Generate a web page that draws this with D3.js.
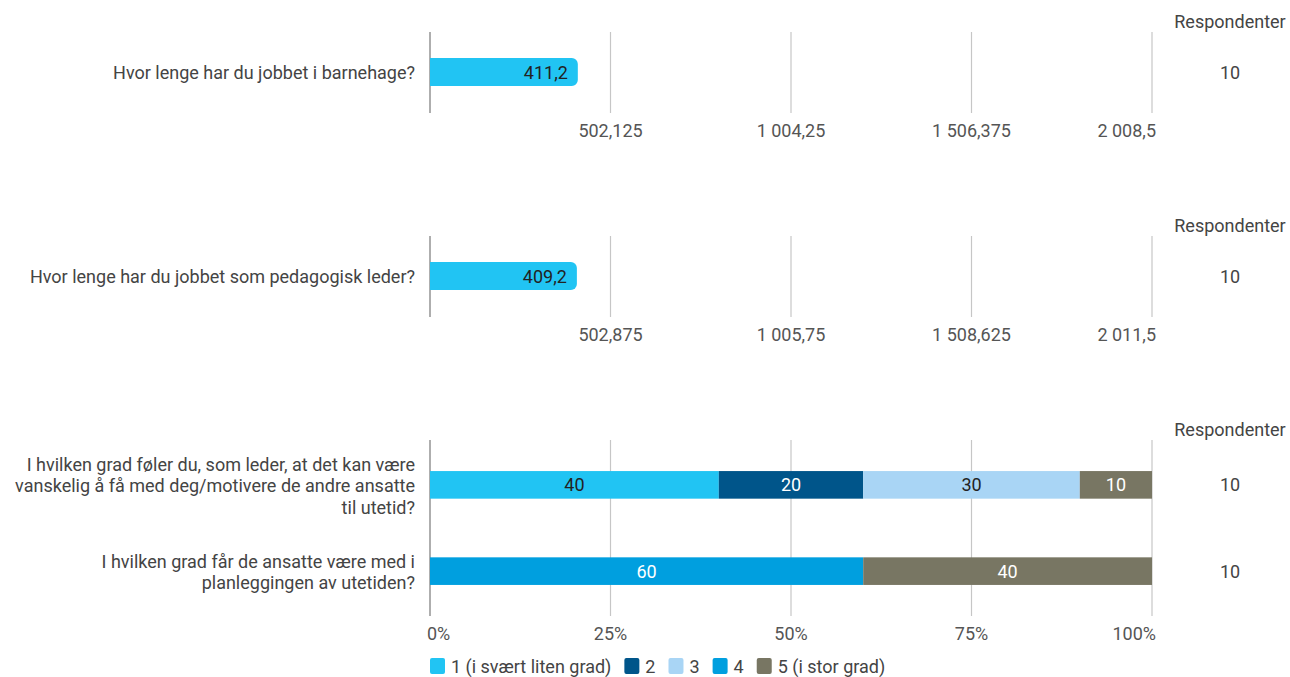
<!DOCTYPE html>
<html>
<head>
<meta charset="utf-8">
<script src="https://cdn.jsdelivr.net/npm/d3@7"></script>
<style>
  html, body { margin: 0; padding: 0; background: #fff; }
  svg { display: block; font-family: Roboto, "Noto Sans", sans-serif; }
</style>
</head>
<body>
<svg id="chart" width="1290" height="677"></svg>
<script>
// Average-value questions (single bar each)
const avgQuestions = ["Hvor lenge har du jobbet i barnehage?", "Hvor lenge har du jobbet som pedagogisk leder?"];
const avgValues = [411.2, 409.2];
const avgMax = [2008.5, 2011.5];
const avgRespondents = [10, 10];

// Likert questions (stacked percentages)
const likertQuestions = [
  ["I hvilken grad føler du, som leder, at det kan være", "vanskelig å få med deg/motivere de andre ansatte", "til utetid?"],
  ["I hvilken grad får de ansatte være med i", "planleggingen av utetiden?"]
];
const likertCategories = ["1 (i svært liten grad)", "2", "3", "4", "5 (i stor grad)"];
const likertValues = [
  [40, 20, 30, 0, 10],
  [0, 0, 0, 60, 40]
];
const likertRespondents = [10, 10];
const likertColors = ["#21c4f3", "#00558a", "#a9d5f5", "#009fdf", "#787663"];
const likertTextColors = ["#222", "#fff", "#222", "#fff", "#fff"];
const pctTicks = [0, 25, 50, 75, 100];

const svg = d3.select("#chart");
const x0 = 430, x1 = 1152;
const labelX = 415;
const respX = 1230;
const FS = 18;
const textColor = "#444";
const fmt = d3.formatLocale({ decimal: ",", thousands: "\u00a0", grouping: [3], currency: ["", ""] });
function numFmt(v) {
  // up to three decimals, trailing zeros removed
  let s = fmt.format(",.3f")(v);
  s = s.replace(/0+$/, "").replace(/,$/, "");
  return s;
}

function drawGrid(g, x, ticks, top, bottom, tickY, labelFn) {
  ticks.forEach((t, i) => {
    if (i > 0) {
      g.append("line").attr("x1", x(t)).attr("x2", x(t)).attr("y1", top).attr("y2", bottom)
        .attr("stroke", "#c6c6c6").attr("stroke-width", 1.2);
    }
  });
  g.append("line").attr("x1", x0).attr("x2", x0).attr("y1", top).attr("y2", bottom)
    .attr("stroke", "#9a9a9a").attr("stroke-width", 1.6);
  ticks.forEach((t, i) => {
    const lbl = labelFn(t, i);
    if (lbl === null) return;
    const last = i === ticks.length - 1;
    const first = i === 0;
    g.append("text")
      .attr("x", last ? x(t) + 4 : (first ? x(t) - 3 : x(t)))
      .attr("y", tickY)
      .attr("text-anchor", last ? "end" : (first ? "start" : "middle"))
      .attr("font-size", FS).attr("fill", "#555")
      .text(lbl);
  });
}

// ---- Average panels ----
const avgTops = [32, 236];
avgQuestions.forEach((q, i) => {
  const top = avgTops[i];
  const g = svg.append("g");
  const x = d3.scaleLinear().domain([0, avgMax[i]]).range([x0, x1]);
  const step = avgMax[i] / 4;
  const ticks = [0, step, step * 2, step * 3, step * 4];
  const bottom = top + 81;
  const cy = top + 40;
  g.append("text").attr("x", respX).attr("y", top - 4).attr("text-anchor", "middle")
    .attr("font-size", FS).attr("fill", textColor).text("Respondenter");
  drawGrid(g, x, ticks, top, bottom, top + 105, (t, k) => k === 0 ? null : numFmt(t));
  const h = 28, r = 6;
  const w = x(avgValues[i]) - x0;
  // bar with rounded right end
  const path = `M${x0},${cy - h / 2} H${x0 + w - r} A${r},${r} 0 0 1 ${x0 + w},${cy - h / 2 + r}
    V${cy + h / 2 - r} A${r},${r} 0 0 1 ${x0 + w - r},${cy + h / 2} H${x0} Z`;
  g.append("path").attr("d", path).attr("fill", likertColors[0]);
  g.append("text").attr("x", x0 + w - 10).attr("y", cy + 6.5).attr("text-anchor", "end")
    .attr("font-size", FS).attr("fill", "#222").text(numFmt(avgValues[i]));
  g.append("text").attr("x", labelX).attr("y", cy + 6.5).attr("text-anchor", "end")
    .attr("font-size", FS).attr("fill", textColor).text(q);
  g.append("text").attr("x", respX).attr("y", cy + 6.5).attr("text-anchor", "middle")
    .attr("font-size", FS).attr("fill", textColor).text(avgRespondents[i]);
});

// ---- Likert panel ----
const lTop = 440, lBottom = 616;
const gl = svg.append("g");
const xp = d3.scaleLinear().domain([0, 100]).range([x0, x1]);
gl.append("text").attr("x", respX).attr("y", lTop - 4).attr("text-anchor", "middle")
  .attr("font-size", FS).attr("fill", textColor).text("Respondenter");
drawGrid(gl, xp, pctTicks, lTop, lBottom, lTop + 200, t => t + "%");

const y = d3.scaleBand().domain(d3.range(likertQuestions.length)).range([lTop, lBottom]).paddingInner(0.68).paddingOuter(0.36);
likertQuestions.forEach((lines, i) => {
  const by = y(i), bh = y.bandwidth();
  const cy = by + bh / 2;
  let acc = 0;
  likertValues[i].forEach((v, k) => {
    if (v <= 0) return;
    const xs = xp(acc), xe = xp(acc + v);
    gl.append("rect").attr("x", xs).attr("y", by).attr("width", xe - xs).attr("height", bh)
      .attr("fill", likertColors[k]);
    gl.append("text").attr("x", (xs + xe) / 2).attr("y", cy + 6.5).attr("text-anchor", "middle")
      .attr("font-size", FS).attr("fill", likertTextColors[k]).text(v);
    acc += v;
  });
  const lh = 21.5;
  const startY = cy + 7.5 - (lines.length - 1) * lh / 2;
  lines.forEach((ln, j) => {
    gl.append("text").attr("x", labelX).attr("y", startY + j * lh).attr("text-anchor", "end")
      .attr("font-size", FS).attr("fill", textColor).text(ln);
  });
  gl.append("text").attr("x", respX).attr("y", cy + 6.5).attr("text-anchor", "middle")
    .attr("font-size", FS).attr("fill", textColor).text(likertRespondents[i]);
});

// ---- Legend ----
const legend = svg.append("g").attr("transform", "translate(430,658)");
let lx = 0;
likertCategories.forEach((c, k) => {
  const item = legend.append("g").attr("transform", `translate(${lx},0)`);
  item.append("rect").attr("width", 15).attr("height", 16).attr("rx", 2).attr("fill", likertColors[k]);
  const t = item.append("text").attr("x", 21).attr("y", 14.5).attr("font-size", FS).attr("fill", textColor).text(c);
  lx += 21 + t.node().getComputedTextLength() + 13;
});
</script>
</body>
</html>
